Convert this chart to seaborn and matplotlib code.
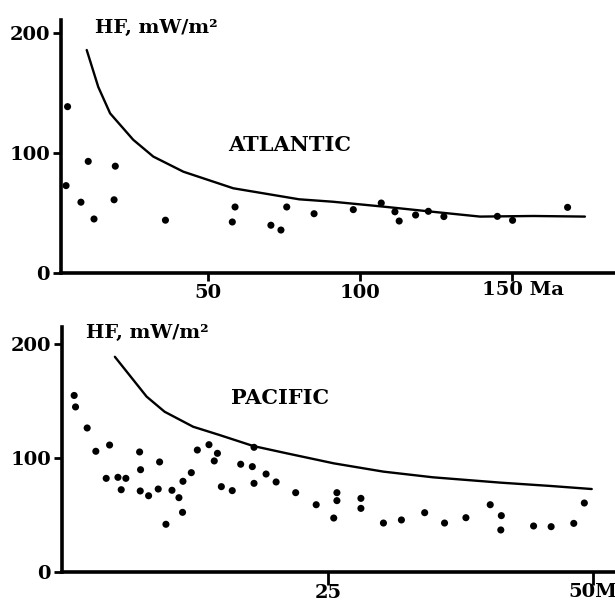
import numpy as np
import pandas as pd
import matplotlib.pyplot as plt
import matplotlib.transforms as mtransforms
import seaborn as sns

# Atlantic: heat flow measurements (age in Ma, HF in mW/m2)
atl_age = [3.3, 3.8, 8.2, 10.6, 12.5, 19.1, 19.5, 36.0, 58.0, 58.9, 70.7, 74.0,
           75.9, 84.9, 97.8, 107.0, 111.5, 112.9, 118.3, 122.5, 127.6, 145.2,
           150.2, 168.3]
atl_hf = [72.8, 138.6, 59.0, 93.0, 45.0, 61.0, 89.0, 44.0, 42.5, 55.0, 39.8, 35.8,
          55.0, 49.4, 52.8, 58.3, 51.0, 43.3, 48.3, 51.4, 47.0, 47.2,
          43.9, 54.7]
# Atlantic: theoretical cooling curve
atl_curve_age = [10.1, 13.9, 17.8, 25.4, 32.0, 41.9, 58.3, 80.0, 91.0, 107.7,
                 124.0, 139.5, 157.0, 174.0]
atl_curve_hf = [185.8, 155.0, 133.0, 111.0, 97.0, 84.4, 70.6, 61.4, 59.4, 55.3,
                51.0, 47.0, 47.5, 47.0]

# Pacific: heat flow measurements
pac_age = [0.95, 1.08, 2.18, 3.0, 4.3, 3.98, 5.09, 5.84, 5.4, 7.14, 7.23, 7.2,
           7.99, 9.03, 8.9, 9.63, 10.2, 10.86, 11.24, 11.2, 12.03, 12.6, 13.7,
           14.5, 14.2, 14.87, 15.9, 16.7, 17.8, 17.96, 17.96, 19.1, 20.05, 21.9,
           23.84, 25.8, 25.8, 25.5, 28.07, 28.07, 30.2, 31.9, 34.1, 35.98, 38.0,
           40.3, 41.35, 41.3, 44.4, 46.06, 48.2, 49.2]
pac_hf = [155.0, 144.9, 126.4, 105.9, 111.4, 82.1, 83.0, 82.1, 72.1, 105.3, 89.7,
          71.0, 66.8, 96.5, 72.7, 41.7, 71.6, 65.1, 79.5, 52.2, 87.1, 107.0, 111.7,
          104.1, 97.4, 74.8, 71.3, 94.5, 92.4, 109.4, 77.7, 85.9, 78.9, 69.5,
          58.9, 69.5, 62.5, 47.2, 64.5, 55.7, 42.8, 45.5, 51.9, 42.8, 47.5,
          58.9, 49.3, 36.7, 40.2, 39.6, 42.5, 60.4]
# Pacific: theoretical cooling curve
pac_curve_age = [4.8, 7.8, 9.5, 12.2, 14.7, 17.9, 21.06, 25.5, 30.2, 34.9, 41.3,
                 46.0, 49.9]
pac_curve_hf = [189.0, 154.0, 140.7, 127.5, 120.2, 110.5, 104.1, 95.3, 88.0,
                83.0, 78.3, 75.4, 72.7]

sns.set_theme(style="ticks")
plt.rcParams['font.family'] = ['DejaVu Serif']
plt.rcParams['font.weight'] = 'bold'
plt.rcParams['text.color'] = 'black'

fig = plt.figure(figsize=(6.15, 6.03), dpi=100)
ax1 = fig.add_axes([61 / 615, 1 - 273 / 603, 554 / 615, 253 / 603])
ax2 = fig.add_axes([62 / 615, 1 - 571.7 / 603, 553 / 615, (571.7 - 327) / 603])

panels = [
    (ax1, atl_age, atl_hf, atl_curve_age, atl_curve_hf),
    (ax2, pac_age, pac_hf, pac_curve_age, pac_curve_hf),
]
for ax, age, hf, c_age, c_hf in panels:
    sns.lineplot(x=c_age, y=c_hf, color="black", linewidth=1.7, sort=False,
                 estimator=None, ax=ax)
    sns.scatterplot(x=age, y=hf, color="black", s=26, edgecolor="none", ax=ax)
    for side in ["top", "right"]:
        ax.spines[side].set_visible(False)
    for side in ["left", "bottom"]:
        ax.spines[side].set_linewidth(2.6)
        ax.spines[side].set_color("black")
    ax.set_facecolor("white")
    ax.tick_params(direction="out", length=6, width=2, colors="black",
                   labelcolor="black", labelsize=14, pad=2)
    ax.set_yticks([0, 100, 200])
    ax.set_yticklabels(["0", "100", "200"], fontweight="bold")

# Atlantic panel
ax1.set_xlim(1.64, 183.9)
ax1.set_ylim(0, 210.8)
ax1.set_xticks([50, 100, 150])
ax1.set_xticklabels(["50", "100", ""], fontweight="bold")
tr1 = mtransforms.blended_transform_factory(ax1.transData, ax1.transAxes)
ax1.text(140.1, -0.03, "150 Ma", transform=tr1, ha="left", va="top",
         fontsize=14, fontweight="bold", clip_on=False)
ax1.text(77, 106.7, "ATLANTIC", ha="center", va="center", fontsize=15,
         fontweight="bold")
ax1.text(12.8, 204, "HF, mW/m²", ha="left", va="center", fontsize=14,
         fontweight="bold")

# Pacific panel
ax2.set_xlim(-0.2, 52.1)
ax2.set_ylim(0, 215.2)
ax2.set_xticks([25, 50])
ax2.set_xticklabels(["25", ""], fontweight="bold")
ax2.tick_params(axis="x", length=9, pad=0)
tr2 = mtransforms.blended_transform_factory(ax2.transData, ax2.transAxes)
ax2.text(47.7, -0.045, "50Ma", transform=tr2, ha="left", va="top",
         fontsize=14, fontweight="bold", clip_on=False)
ax2.text(20.4, 152.8, "PACIFIC", ha="center", va="center", fontsize=15,
         fontweight="bold")
ax2.text(2.06, 210, "HF, mW/m²", ha="left", va="center", fontsize=14,
         fontweight="bold")

fig.savefig("out.png", dpi=100, facecolor="white")
